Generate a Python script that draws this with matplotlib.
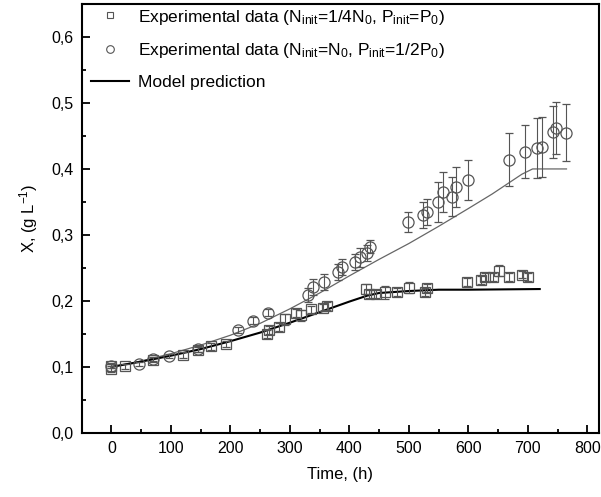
import numpy as np
import matplotlib.pyplot as plt
from matplotlib.lines import Line2D
from matplotlib.ticker import MultipleLocator, FuncFormatter

plt.rcParams['font.family'] = ['Liberation Sans', 'DejaVu Sans']
plt.rcParams['mathtext.fontset'] = 'custom'
plt.rcParams['mathtext.rm'] = 'Liberation Sans'
plt.rcParams['mathtext.it'] = 'Liberation Sans'

# experimental data, N_init = 1/4 N0, P_init = P0 (squares)
t_sq = [0, 0, 23, 70, 120, 145, 168, 192, 262, 265, 282, 292, 310, 318, 335, 355, 362,
        428, 433, 445, 460, 480, 500, 527, 530, 597, 622, 628, 641, 652, 668, 690, 700]
x_sq = [0.097, 0.102, 0.101, 0.111, 0.118, 0.126, 0.131, 0.135, 0.150, 0.156, 0.160, 0.172,
        0.181, 0.178, 0.187, 0.190, 0.192, 0.218, 0.210, 0.211, 0.213, 0.213, 0.220, 0.213,
        0.220, 0.229, 0.232, 0.236, 0.236, 0.246, 0.236, 0.240, 0.236]
e_sq = [0.004, 0.004, 0.004, 0.004, 0.004, 0.004, 0.005, 0.005, 0.006, 0.006, 0.006, 0.008,
        0.006, 0.008, 0.006, 0.006, 0.006, 0.008, 0.006, 0.006, 0.010, 0.006, 0.008, 0.006,
        0.006, 0.006, 0.006, 0.006, 0.006, 0.008, 0.006, 0.006, 0.006]

# experimental data, N_init = N0, P_init = 1/2 P0 (circles)
t_ci = [0, 47, 70, 96, 145, 213, 238, 264, 331, 339, 357, 381, 388, 409, 418, 429, 435,
        498, 524, 530, 549, 557, 572, 580, 599, 669, 695, 716, 723, 742, 748, 765]
x_ci = [0.102, 0.104, 0.112, 0.116, 0.127, 0.156, 0.170, 0.182, 0.209, 0.221, 0.229, 0.244,
        0.252, 0.259, 0.266, 0.273, 0.282, 0.320, 0.330, 0.335, 0.350, 0.365, 0.358, 0.373,
        0.383, 0.414, 0.426, 0.432, 0.433, 0.456, 0.462, 0.455]
e_ci = [0.003, 0.003, 0.003, 0.003, 0.004, 0.005, 0.005, 0.005, 0.010, 0.012, 0.012, 0.012,
        0.012, 0.012, 0.014, 0.012, 0.010, 0.015, 0.020, 0.020, 0.030, 0.030, 0.030, 0.030,
        0.030, 0.040, 0.040, 0.045, 0.045, 0.040, 0.040, 0.043]

# model predictions
t_m1 = [0, 50, 100, 150, 200, 250, 300, 350, 400, 430, 450, 500, 550, 600, 720]
x_m1 = [0.100, 0.108, 0.117, 0.127, 0.139, 0.152, 0.167, 0.183, 0.199, 0.208, 0.212, 0.215,
        0.217, 0.217, 0.218]
t_m2 = [0, 50, 100, 150, 200, 250, 300, 350, 400, 450, 500, 550, 600, 640, 670, 690, 708, 765]
x_m2 = [0.100, 0.109, 0.120, 0.133, 0.148, 0.166, 0.188, 0.212, 0.238, 0.263, 0.287, 0.313,
        0.340, 0.362, 0.380, 0.392, 0.400, 0.400]

fig = plt.figure(figsize=(6.01, 4.97), dpi=100)
ax = fig.add_axes([0.136, 0.129, 0.861, 0.863])

gray = '#555555'
ax.plot(t_m2, x_m2, color='#666666', lw=0.9)
ax.plot(t_m1, x_m1, color='black', lw=1.5)
ax.errorbar(t_sq, x_sq, yerr=e_sq, fmt='s', ms=6.5, mfc='none', mec=gray, mew=0.9,
            ecolor=gray, elinewidth=0.8, capsize=3)
ax.errorbar(t_ci, x_ci, yerr=e_ci, fmt='o', ms=8, mfc='none', mec=gray, mew=0.9,
            ecolor=gray, elinewidth=0.8, capsize=3)

ax.set_xlim(-50, 820)
ax.set_ylim(0, 0.65)
ax.xaxis.set_major_locator(MultipleLocator(100))
ax.xaxis.set_minor_locator(MultipleLocator(50))
ax.yaxis.set_major_locator(MultipleLocator(0.1))
ax.yaxis.set_minor_locator(MultipleLocator(0.05))
ax.yaxis.set_major_formatter(FuncFormatter(lambda v, p: f'{v:.1f}'.replace('.', ',')))
ax.tick_params(which='both', direction='in', labelsize=11.5, width=1.3)
ax.tick_params(which='major', length=6, pad=6)
ax.tick_params(which='minor', length=3)
for s in ax.spines.values():
    s.set_linewidth(1.5)

ax.set_xlabel('Time, (h)', fontsize=12, labelpad=8)
ax.set_ylabel('X, (g L$^{-1}$)', fontsize=12, labelpad=8)

handles = [
    Line2D([], [], ls='none', marker='s', ms=5, mfc='none', mec=gray, mew=0.8),
    Line2D([], [], ls='none', marker='o', ms=5.5, mfc='none', mec=gray, mew=0.8),
    Line2D([], [], color='black', lw=1.5),
]
labels = [
    'Experimental data (N$_{\\mathregular{init}}$=1/4N$_0$, P$_{\\mathregular{init}}$=P$_0$)',
    'Experimental data (N$_{\\mathregular{init}}$=N$_0$, P$_{\\mathregular{init}}$=1/2P$_0$)',
    'Model prediction',
]
ax.legend(handles, labels, loc='upper left', frameon=False,
          fontsize=12.5, handlelength=2.2, handletextpad=0.5, borderaxespad=0.3,
          labelspacing=0.85, bbox_to_anchor=(-0.005, 1.02))

fig.savefig('out.png', dpi=100)
